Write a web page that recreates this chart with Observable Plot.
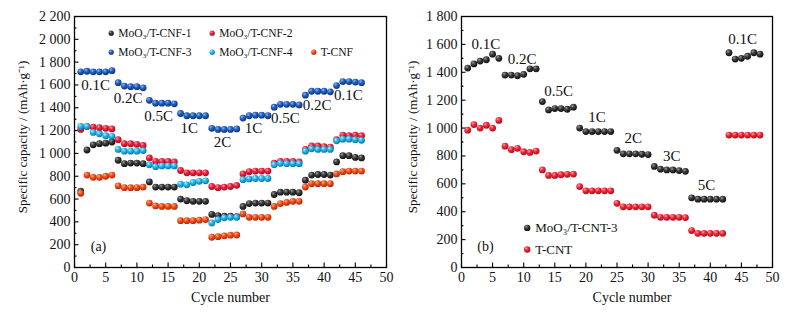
<!DOCTYPE html>
<html>
<head>
<meta charset="utf-8">
<script src="https://cdn.jsdelivr.net/npm/d3@7"></script>
<script src="https://cdn.jsdelivr.net/npm/@observablehq/plot@0.6"></script>
<style>
  html, body { margin: 0; padding: 0; background: #fff; }
  #wrap { position: relative; width: 797px; height: 318px; overflow: hidden; }
  #left, #right { position: absolute; top: 0; }
  #left { left: 0; }
  #right { left: 398px; }
  svg { font-family: "Liberation Serif", serif; }
</style>
</head>
<body>
<svg width="0" height="0" style="position:absolute">
  <defs id="grads"></defs>
</svg>
<div id="wrap"><div id="left"></div><div id="right"></div></div>
<script>
// ---------- Panel (a) data ----------
const cyclesA = d3.range(1, 47);
const cnf1 = [670,1030,1075,1085,1090,1100, 940,910,915,915,910, 750,705,705,705,705, 600,585,580,580,580, 465,455,450,450,445, 535,560,565,565,565, 640,660,660,660,655, 765,810,815,815,810, 925,980,980,965,960];
const cnf2 = [1210,1235,1230,1225,1220,1215, 1120,1085,1085,1080,1070, 960,930,930,930,925, 850,830,830,830,830, 710,700,705,710,720, 820,840,845,845,845, 915,930,930,930,925, 1035,1065,1065,1060,1055, 1120,1160,1155,1160,1155];
const cnf3 = [1715,1720,1715,1715,1715,1725, 1620,1590,1585,1585,1575, 1465,1440,1440,1440,1435, 1350,1330,1330,1330,1330, 1220,1210,1210,1210,1215, 1310,1330,1335,1335,1330, 1405,1430,1430,1430,1425, 1510,1545,1545,1545,1540, 1595,1630,1630,1625,1620];
const cnf4 = [1236,1236,1184,1172,1155,1150, 1035,1020,1020,1020,1025, 900,884,890,890,890, 730,725,745,755,760, 390,420,435,440,440, 770,776,780,780,780, 900,913,910,910,910, 1020,1040,1035,1035,1035, 1110,1125,1125,1120,1115];
const tcnf = [651,810,790,790,800,810, 715,700,700,700,705, 565,540,535,535,535, 410,410,410,415,420, 265,270,278,283,285, 470,440,440,440,440, 535,560,570,580,580, 705,735,735,735,735, 820,840,845,845,845];
const seriesA = ["MoO₃/T-CNF-1", "MoO₃/T-CNF-2", "MoO₃/T-CNF-3", "MoO₃/T-CNF-4", "T-CNF"];
const rateLabelsA = ["0.1C","0.2C","0.5C","1C","2C","1C","0.5C","0.2C","0.1C"];
const rateXA = [3.4, 8.6, 13.5, 18.4, 23.7, 28.7, 33.8, 38.9, 43.9];
const rateYA = [1600, 1480, 1325, 1220, 1100, 1220, 1310, 1420, 1507];

// ---------- Panel (b) data ----------
const cyclesB = d3.range(1, 49);
const cnt3 = [1430,1460,1480,1490,1530,1500, 1380,1380,1375,1385,1425,1425, 1190,1130,1140,1140,1135,1150, 1000,975,975,975,975,975, 840,815,815,815,812,810, 725,705,700,700,695,690, 500,490,490,490,490,490, 1540,1495,1500,1515,1540,1530];
const tcnt = [985,1025,1000,1020,1000,1055, 870,845,855,830,825,835, 700,660,660,665,668,670, 580,550,550,550,550,550, 460,435,435,435,435,435, 375,360,360,360,360,358, 265,245,245,245,245,245, 950,950,950,950,950,950];
const seriesB = ["MoO₃/T-CNT-3", "T-CNT"];
const rateLabelsB = ["0.1C","0.2C","0.5C","1C","2C","3C","5C","0.1C"];
const rateXB = [3.9, 9.75, 15.6, 21.8, 27.6, 33.8, 39.4, 45.2];
const rateYB = [1605, 1497, 1263, 1080, 924, 798, 590, 1640];

// axis ticks
const yTicksA = [0,200,400,600,800,1000,1200,1400,1600,1800,2000,2200];
const yTicksB = [0,200,400,600,800,1000,1200,1400,1600,1800];
const xTicks = [0,5,10,15,20,25,30,35,40,45,50];

// ---------- colours / gradients ----------
const colors = {
  black: ["#9a9a9a", "#3a3a3a", "#111"],
  red: ["#ff9aa6", "#ec2240", "#a0101e"],
  blue: ["#8fb4ee", "#2262c4", "#0d347a"],
  cyan: ["#b6ecff", "#26b6ea", "#0b78a8"],
  orange: ["#ffb08a", "#f24e1c", "#b02a08"],
  red2: ["#ffa0a8", "#f2283a", "#a8101c"]
};
const defs = d3.select("#grads");
for (const [k, [c0, c1, c2]] of Object.entries(colors)) {
  const g = defs.append("radialGradient").attr("id", "g-" + k)
    .attr("cx", "0.38").attr("cy", "0.35").attr("r", "0.65").attr("fx", "0.35").attr("fy", "0.3");
  g.append("stop").attr("offset", "0").attr("stop-color", c0);
  g.append("stop").attr("offset", "0.45").attr("stop-color", c1);
  g.append("stop").attr("offset", "1").attr("stop-color", c2);
}
const fillA = ["url(#g-black)", "url(#g-red)", "url(#g-blue)", "url(#g-cyan)", "url(#g-orange)"];
const fillB = ["url(#g-black)", "url(#g-red2)"];

const fmt = d => d >= 1000 ? String(d).replace(/(\d)(\d{3})$/, "$1 $2") : String(d);
const FS = 14;

function panel({width, marginLeft, marginRight, cycles, seriesVals, fills, yMax, yTicks, rateLabels, rateX, rateY, legend, tag, ylabelDx, xlabelDx}) {
  const marginTop = 16, marginBottom = 51, height = 318;
  const fw = width - marginLeft - marginRight;
  const fh = height - marginTop - marginBottom;
  const minorY = d3.range(100, yMax, 200);
  const minorX = d3.range(2.5, 50, 5);
  const marks = [];
  // inward ticks
  marks.push(Plot.tickY(yTicks, {y: d => d, insetRight: fw - 4.5, stroke: "#000", strokeWidth: 1.1}));
  marks.push(Plot.tickY(minorY, {y: d => d, insetRight: fw - 2.5, stroke: "#000", strokeWidth: 1.1}));
  marks.push(Plot.tickX(xTicks, {x: d => d, insetTop: fh - 4.5, stroke: "#000", strokeWidth: 1.1}));
  marks.push(Plot.tickX(minorX, {x: d => d, insetTop: fh - 2.5, stroke: "#000", strokeWidth: 1.1}));
  marks.push(Plot.axisY({ticks: yTicks, tickSize: 0, tickPadding: 4, tickFormat: fmt, fontSize: FS, label: null, fill: "#111"}));
  marks.push(Plot.axisX({ticks: xTicks, tickSize: 0, tickPadding: 5, fontSize: FS, label: null, fill: "#111"}));
  // series
  seriesVals.forEach((vals, i) => {
    marks.push(Plot.dot(cycles, {x: d => d, y: (d, j) => vals[j], r: 3.4, fill: fills[i], stroke: null}));
  });
  // rate labels
  marks.push(Plot.text(rateLabels, {x: (d, i) => rateX[i], y: (d, i) => rateY[i], text: d => d, fontSize: FS + 1, fill: "#111"}));
  // legend
  legend.items.forEach((name, i) => {
    const col = legend.col[i], row = legend.row[i];
    marks.push(Plot.dot([name], {frameAnchor: legend.anchor, dx: col, dy: row, r: legend.r, fill: fills[i]}));
    marks.push(Plot.text([name], {frameAnchor: legend.anchor, dx: col + legend.gap, dy: row, text: d => d, textAnchor: "start", lineAnchor: "middle", fontSize: legend.fs, fill: "#111"}));
  });
  // panel tag
  marks.push(Plot.text([tag], {frameAnchor: "bottom-left", dx: 24, dy: -21, text: d => d, textAnchor: "middle", lineAnchor: "middle", fontSize: FS, fill: "#111"}));
  // axis titles
  marks.push(Plot.text(["Specific capacity / (mAh·g⁻¹)"], {frameAnchor: "left", dx: ylabelDx, dy: -5, rotate: -90, text: d => d, textAnchor: "middle", lineAnchor: "middle", fontSize: 13, fill: "#111"}));
  marks.push(Plot.text(["Cycle number"], {frameAnchor: "bottom", dx: xlabelDx, dy: 30, text: d => d, textAnchor: "middle", lineAnchor: "middle", fontSize: FS, fill: "#111"}));
  marks.push(Plot.frame({stroke: "#000", strokeWidth: 1.3}));
  return Plot.plot({
    width, height, marginLeft, marginRight, marginTop, marginBottom,
    style: {fontFamily: "'Liberation Serif', serif", background: "transparent", overflow: "visible"},
    x: {domain: [0, 50]},
    y: {domain: [0, yMax]},
    marks
  });
}

document.getElementById("left").appendChild(panel({
  width: 398, marginLeft: 74, marginRight: 12,
  cycles: cyclesA, seriesVals: [cnf1, cnf2, cnf3, cnf4, tcnf], fills: fillA,
  yMax: 2200, yTicks: yTicksA,
  rateLabels: rateLabelsA, rateX: rateXA, rateY: rateYA,
  legend: {items: seriesA, anchor: "top-left", col: [36.7, 137.7, 36.7, 137.7, 239.3], row: [16.7, 16.7, 35.7, 35.7, 35.7], r: 2.6, fs: 11.5, gap: 7},
  tag: "(a)", ylabelDx: -52, xlabelDx: 0
}));
document.getElementById("right").appendChild(panel({
  width: 399, marginLeft: 63, marginRight: 25,
  cycles: cyclesB, seriesVals: [cnt3, tcnt], fills: fillB,
  yMax: 1800, yTicks: yTicksB,
  rateLabels: rateLabelsB, rateX: rateXB, rateY: rateYB,
  legend: {items: seriesB, anchor: "bottom-left", col: [65.7, 65.7], row: [-39.6, -18], r: 3.2, fs: 13, gap: 8},
  tag: "(b)", ylabelDx: -49, xlabelDx: 15
}));
</script>
</body>
</html>
